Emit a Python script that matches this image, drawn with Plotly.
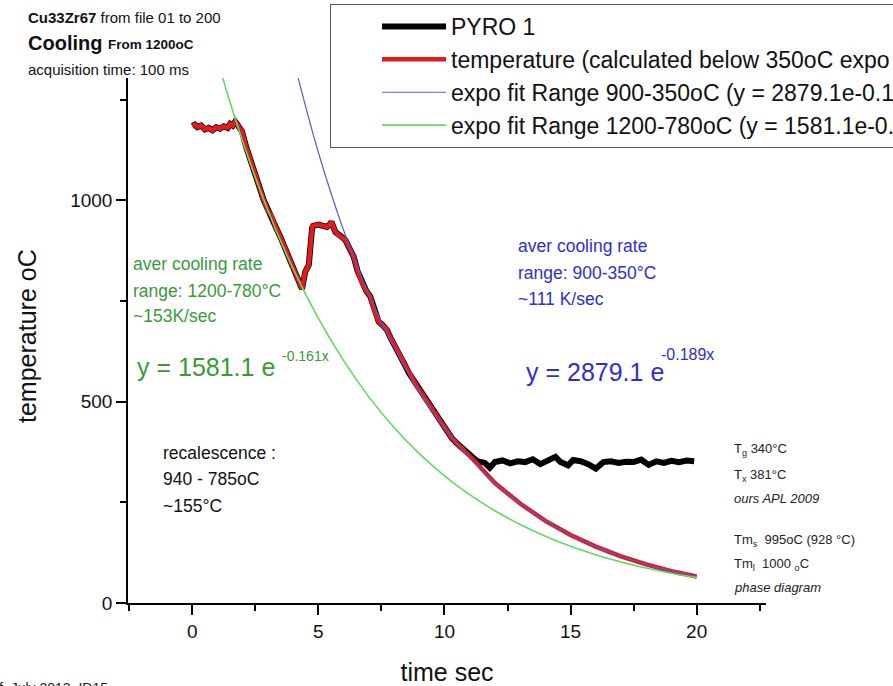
import plotly.graph_objects as go

# ---------------- data ----------------
time_meas = [0.0, 0.1, 0.2, 0.35, 0.5, 0.65, 0.8, 0.95, 1.1, 1.25, 1.4, 1.5, 1.6, 1.7, 1.77,
             1.97, 2.15, 2.37, 2.6, 2.83, 3.0, 3.16, 3.3, 3.49, 3.7, 3.89, 4.1, 4.29, 4.35,
             4.48, 4.62, 4.75, 4.8, 5.0, 5.2, 5.34, 5.45, 5.52, 5.67, 5.87, 6.07, 6.2, 6.4,
             6.55, 6.73, 6.9, 7.06, 7.2, 7.39, 7.55, 7.72, 7.85, 7.99, 8.2, 8.39, 8.59, 8.75,
             8.92, 9.1, 9.25, 9.4, 9.58, 9.75, 9.91, 10.1, 10.3, 10.5, 10.7, 10.9, 11.1]
temp_meas = [1185, 1188, 1182, 1186, 1176, 1180, 1174, 1182, 1178, 1184, 1180, 1190, 1186, 1196, 1190,
             1171, 1130, 1092, 1045, 1001, 975, 960, 935, 910, 878, 852, 818, 786, 780,
             823, 840, 931, 937, 940, 937, 934, 940, 947, 922, 910, 902, 885, 860,
             825, 795, 775, 761, 730, 699, 690, 678, 660, 645, 620, 596, 571, 556,
             537, 520, 504, 494, 475, 460, 446, 428, 409, 396, 384, 371, 359]

time_plateau = [11.3, 11.6, 11.8, 12.0, 12.3, 12.6, 12.9, 13.2, 13.5, 13.8, 14.1, 14.4, 14.6, 14.9,
                15.1, 15.4, 15.7, 16.0, 16.3, 16.6, 16.9, 17.2, 17.5, 17.8, 18.1, 18.4, 18.7,
                19.0, 19.3, 19.6, 19.9]
pyro_plateau = [352, 348, 336, 350, 354, 347, 352, 350, 357, 345, 356, 363, 350, 342,
                355, 352, 345, 334, 350, 352, 348, 351, 350, 356, 343, 352, 348,
                353, 350, 354, 352]

time_fit_blue = [4, 5, 6, 7, 8, 9, 10, 11, 12, 13, 14, 15, 16, 17, 18, 19, 20]
fit_blue = [1352, 1119, 926, 767, 635, 525, 435, 360, 298, 247, 204, 169, 140, 116, 96, 79, 66]

time_fit_green = [1, 2, 3, 4, 5, 6, 7, 8, 9, 10, 11, 12, 13, 14, 15, 16, 17, 18, 19, 20]
fit_green = [1346, 1146, 975, 830, 707, 602, 512, 436, 371, 316, 269, 229, 195, 166, 141,
             120, 102, 87, 74, 63]

x_ticks = [0, 5, 10, 15, 20]
y_ticks = [0, 500, 1000]

# ---------------- layout geometry ----------------
W, H = 893, 686
L, R, T, B = 128, 127, 78, 83
PW, PH = W - L - R, H - T - B
FONT = "Arial, Liberation Sans, sans-serif"


def px(xp):
    return (xp - L) / PW


def py(yp):
    return (H - B - yp) / PH


fig = go.Figure()

fig.add_trace(go.Scatter(
    x=time_meas + time_plateau, y=temp_meas + pyro_plateau, mode="lines",
    name="PYRO 1", legendgroup="a", line=dict(color="black", width=6)))

calc_idx = [i for i, t in enumerate(time_fit_blue) if t >= 12]
fig.add_trace(go.Scatter(
    x=time_meas + [time_fit_blue[i] for i in calc_idx],
    y=temp_meas + [fit_blue[i] for i in calc_idx], mode="lines",
    name="temperature (calculated below 350oC expo fit)", legendgroup="b",
    line=dict(color="#e41a1c", width=4.5)))

fig.add_trace(go.Scatter(
    x=time_fit_blue, y=fit_blue, mode="lines", line_shape="spline",
    name="expo fit Range 900-350oC (y = 2879.1e-0.189x)", legendgroup="c",
    line=dict(color="#5b5bc8", width=1.2)))

fig.add_trace(go.Scatter(
    x=time_fit_green, y=fit_green, mode="lines", line_shape="spline",
    name="expo fit Range 1200-780oC (y = 1581.1e-0.161x)", legendgroup="d",
    line=dict(color="#5fdc5f", width=1.6)))

ann = []


def add(text, xp, yp, size, color="#111", xanchor="left", yanchor="middle", angle=0):
    ann.append(dict(text=text, x=px(xp), y=py(yp), xref="paper", yref="paper",
                    xanchor=xanchor, yanchor=yanchor, showarrow=False, textangle=angle,
                    font=dict(family=FONT, size=size, color=color)))


# y axis title (drawn as rotated text beside the axis)
add("temperature oC", 27, 336, 25, xanchor="center", angle=-90)

# header
add("<b>Cu33Zr67</b> from file 01 to 200", 26, 17, 15)
add("<b>Cooling</b>", 26, 43, 20)
add("<b>From 1200oC</b>", 106, 45, 13.5)
add("acquisition time: 100 ms", 26, 69, 15)

GREEN = "#3a993a"
BLUE = "#2e2ed0"
add("aver cooling rate", 131, 264, 17.5, GREEN)
add("range: 1200-780°C", 131, 291, 17.5, GREEN)
add("~153K/sec", 131, 316, 17.5, GREEN)
add("y = 1581.1 e", 135, 367, 25, GREEN)
add("-0.161x", 280, 356, 14, GREEN)

add("aver cooling rate", 516, 246, 17.5, BLUE)
add("range: 900-350°C", 516, 273, 17.5, BLUE)
add("~111 K/sec", 516, 299, 17.5, BLUE)
add("y = 2879.1 e", 524, 372, 25, BLUE)
add("-0.189x", 659, 354, 16, BLUE)

add("recalescence :", 161, 453, 17.5)
add("940 - 785oC", 161, 479, 17.5)
add("~155°C", 161, 506, 17.5)

NOTE = "#222"
add("T<sub>g</sub> 340°C", 732, 449, 13, NOTE)
add("T<sub>x</sub> 381°C", 732, 475, 13, NOTE)
add("<i>ours APL 2009</i>", 732, 498, 13, NOTE)
add("Tm<sub>s</sub>  995oC (928 °C)", 732, 540, 13, NOTE)
add("Tm<sub>l</sub>  1000 <sub>o</sub>C", 732, 564, 13, NOTE)
add("<i>phase diagram</i>", 732, 587, 13, NOTE)

add("f, July 2013, ID15", -3, 678, 14, "#222", yanchor="top")

axis_common = dict(showline=True, linecolor="black", linewidth=1.5, ticks="outside",
                   ticklen=10, tickwidth=1.5, tickcolor="black", showgrid=False,
                   zeroline=False, tickfont=dict(family=FONT, size=19, color="#111"),
                   mirror=False, automargin=False)

fig.update_layout(
    width=W, height=H, margin=dict(l=L, r=R, t=T, b=B, autoexpand=False),
    paper_bgcolor="white", plot_bgcolor="white",
    font=dict(family=FONT, color="#111"),
    annotations=ann,
    showlegend=True,
    legend=dict(x=330 / W, y=1 - 4 / H, xref="container", yref="container",
                xanchor="left", yanchor="top", bgcolor="white",
                bordercolor="#555", borderwidth=1,
                font=dict(family=FONT, size=23, color="#111"),
                tracegroupgap=0, traceorder="grouped",
                itemwidth=64, indentation=46),
    xaxis=dict(range=[-2.55, 22.75], tickvals=x_ticks,
               minor=dict(dtick=2.5, tick0=-2.5, ticks="outside", ticklen=6,
                          tickwidth=1.5, tickcolor="black"),
               title=dict(text="time sec", font=dict(family=FONT, size=25, color="#111"),
                          standoff=28),
               **axis_common),
    yaxis=dict(range=[0, 1304], tickvals=y_ticks,
               minor=dict(dtick=250, tick0=0, ticks="outside", ticklen=6,
                          tickwidth=1.5, tickcolor="black"),
               **axis_common),
)

fig.write_html("out.html")
